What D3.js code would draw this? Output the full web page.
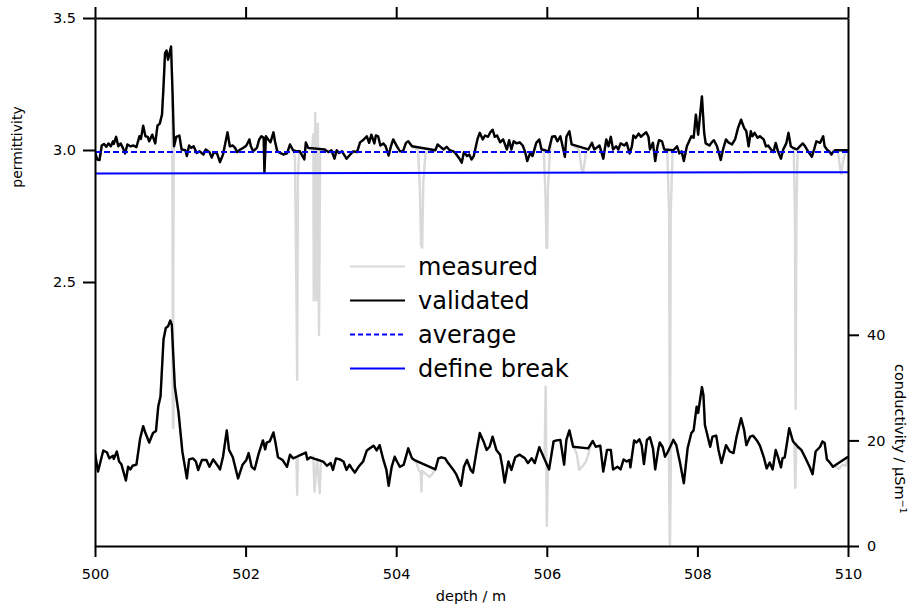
<!DOCTYPE html>
<html>
<head>
<meta charset="utf-8">
<script src="https://cdn.jsdelivr.net/npm/d3@7"></script>
<style>
  body { margin: 0; background: #fff; }
  svg { display: block; font-family: "DejaVu Sans", sans-serif; }
</style>
</head>
<body>
<svg id="chart" width="912" height="605"></svg>
<script>
// depth ticks and axis ticks
var depthTicks = [500, 502, 504, 506, 508, 510],
    permTicks = [2.5, 3.0, 3.5],
    condTicks = [0, 20, 40];

// validated permittivity [depth, value]
var permValidated = [
  [500.00,2.992],[500.03,2.964],[500.06,2.962],[500.09,3.017],[500.12,3.023],[500.15,3.012],[500.18,3.025],[500.21,3.014],
  [500.24,3.033],[500.25,3.023],[500.28,3.050],[500.31,3.014],[500.34,3.025],[500.37,3.008],[500.40,2.987],[500.43,3.021],
  [500.47,3.014],[500.51,3.017],[500.55,3.011],[500.59,3.052],[500.61,3.042],[500.64,3.092],[500.67,3.052],[500.70,3.050],
  [500.72,3.033],[500.76,3.058],[500.80,3.025],[500.83,3.092],[500.86,3.100],[500.89,3.134],[500.91,3.241],[500.93,3.367],
  [500.95,3.377],[500.97,3.342],[501.01,3.392],[501.03,3.216],[501.05,3.014],[501.08,3.050],[501.12,3.055],[501.15,3.002],
  [501.20,2.999],[501.22,2.977],[501.25,3.017],[501.28,3.008],[501.31,3.014],[501.35,2.989],[501.39,2.995],[501.44,2.983],
  [501.47,3.002],[501.52,2.992],[501.55,2.971],[501.58,2.992],[501.62,2.987],[501.66,2.954],[501.70,2.983],[501.76,3.067],
  [501.79,3.014],[501.83,3.017],[501.86,3.008],[501.89,2.992],[501.93,3.002],[501.97,3.008],[502.01,3.017],[502.05,3.040],
  [502.07,3.014],[502.10,2.995],[502.15,3.008],[502.18,3.040],[502.21,3.052],[502.24,3.046],[502.25,2.916],[502.27,3.052],
  [502.30,3.040],[502.33,3.029],[502.37,3.067],[502.39,3.033],[502.42,2.995],[502.46,2.989],[502.50,2.983],[502.55,2.987],
  [502.59,3.021],[502.63,2.999],[502.68,2.995],[502.72,2.995],[502.78,2.964],[502.80,3.029],[502.83,3.008],[503.05,3.002],
  [503.10,2.992],[503.14,2.999],[503.18,2.967],[503.21,2.999],[503.24,2.989],[503.28,2.995],[503.34,2.967],[503.39,2.983],
  [503.43,2.995],[503.48,2.992],[503.52,3.029],[503.57,3.040],[503.61,3.052],[503.64,3.027],[503.67,3.058],[503.71,3.025],
  [503.73,3.055],[503.76,3.052],[503.79,3.017],[503.83,3.025],[503.86,3.014],[503.90,2.979],[503.93,3.014],[503.96,3.040],
  [504.01,3.014],[504.05,2.995],[504.09,2.995],[504.13,3.027],[504.16,3.033],[504.21,3.014],[504.52,2.999],[504.55,3.021],
  [504.58,3.014],[504.63,3.002],[504.67,3.012],[504.71,2.999],[504.76,2.995],[504.79,2.987],[504.84,2.967],[504.87,2.952],
  [504.90,2.992],[504.94,2.977],[504.97,2.983],[505.00,2.964],[505.03,2.977],[505.08,3.042],[505.11,3.065],[505.15,3.040],
  [505.18,3.055],[505.22,3.050],[505.25,3.067],[505.28,3.077],[505.31,3.050],[505.34,3.055],[505.38,3.029],[505.42,3.040],
  [505.47,3.002],[505.50,3.037],[505.53,3.002],[505.56,3.033],[505.60,3.025],[505.64,3.029],[505.68,3.017],[505.71,2.995],
  [505.74,2.958],[505.78,2.989],[505.81,2.977],[505.86,3.027],[505.90,3.040],[505.93,3.002],[505.98,2.999],[506.02,2.992],
  [506.07,3.050],[506.11,3.052],[506.14,3.033],[506.18,3.052],[506.21,3.014],[506.24,2.974],[506.26,3.050],[506.30,3.071],
  [506.33,3.021],[506.55,3.002],[506.60,3.027],[506.63,3.002],[506.66,3.008],[506.70,3.017],[506.75,2.967],[506.79,3.040],
  [506.82,3.014],[506.85,3.050],[506.88,3.002],[506.92,3.014],[506.95,3.002],[506.98,3.025],[507.03,3.017],[507.06,3.027],
  [507.10,2.987],[507.13,3.014],[507.15,3.055],[507.18,3.046],[507.22,3.062],[507.25,3.050],[507.28,3.058],[507.32,3.067],
  [507.35,3.050],[507.37,3.002],[507.41,3.027],[507.44,2.958],[507.47,3.014],[507.49,3.037],[507.53,3.033],[507.56,3.002],
  [507.68,2.999],[507.73,3.014],[507.76,2.987],[507.79,2.995],[507.82,2.958],[507.86,3.014],[507.89,3.033],[507.92,3.052],
  [507.95,3.046],[507.98,3.134],[508.01,3.058],[508.06,3.203],[508.09,3.065],[508.11,3.025],[508.16,3.017],[508.19,3.029],
  [508.22,3.037],[508.26,3.014],[508.28,2.995],[508.31,2.962],[508.34,3.002],[508.38,3.040],[508.41,3.029],[508.46,3.021],
  [508.50,3.040],[508.54,3.084],[508.58,3.115],[508.62,3.084],[508.65,3.071],[508.68,3.014],[508.71,3.071],[508.73,3.052],
  [508.76,3.065],[508.80,3.046],[508.83,3.052],[508.88,3.040],[508.91,3.014],[508.94,3.017],[508.97,3.005],[509.01,2.992],
  [509.04,3.027],[509.07,2.995],[509.11,2.967],[509.14,3.002],[509.18,3.025],[509.21,3.065],[509.24,3.014],[509.27,3.008],
  [509.32,3.002],[509.36,3.014],[509.40,3.025],[509.43,3.014],[509.47,2.995],[509.52,2.974],[509.55,3.002],[509.58,3.033],
  [509.63,3.027],[509.67,3.052],[509.69,3.014],[509.72,3.002],[509.75,2.995],[509.78,2.983],[509.80,2.992],[509.83,2.999],
  [509.98,2.999],[510.00,2.999]
];

// measured permittivity where it differs from validated (spikes)
var permMeasuredSpikes = [
  [[501.025,3.25],[501.035,1.95],[501.045,3.05]],
  [[502.655,2.97],[502.675,2.45],[502.685,2.13],[502.695,2.90],[502.71,2.99]],
  [[502.88,3.00],[502.90,3.06],[502.905,2.43],[502.925,3.14],[502.94,2.43],[502.96,3.10],[502.975,2.30],[502.99,3.00]],
  [[504.29,3.00],[504.315,2.85],[504.33,2.64],[504.345,2.63],[504.36,2.88],[504.39,2.99]],
  [[505.96,3.00],[505.985,2.80],[505.995,2.63],[506.005,2.63],[506.015,2.85],[506.04,2.99]],
  [[506.43,3.00],[506.46,2.93],[506.48,2.915],[506.50,2.95],[506.52,2.99]],
  [[507.60,3.00],[507.625,2.75],[507.635,1.50],[507.645,2.75],[507.67,2.99]],
  [[509.28,3.00],[509.295,2.75],[509.305,2.02],[509.315,2.75],[509.33,2.99]],
  [[509.87,2.99],[509.895,2.93],[509.91,2.91],[509.93,2.95],[509.96,2.99]]
];

// validated conductivity [depth, µS/m]
var condValidated = [
  [500.00,17.6],[500.04,14.1],[500.11,18.1],[500.16,17.7],[500.19,16.6],[500.24,17.1],[500.25,16.5],[500.29,17.9],
  [500.32,16.0],[500.35,15.5],[500.41,12.4],[500.44,15.0],[500.47,14.5],[500.50,15.2],[500.55,15.4],[500.60,20.4],
  [500.64,22.7],[500.67,21.4],[500.72,19.6],[500.77,21.4],[500.81,21.8],[500.84,26.4],[500.87,28.3],[500.91,39.1],
  [500.94,41.3],[500.97,41.6],[501.00,42.7],[501.02,41.9],[501.06,30.2],[501.11,25.2],[501.16,17.9],[501.22,12.8],
  [501.25,16.4],[501.30,16.6],[501.34,16.0],[501.37,14.4],[501.42,16.3],[501.48,16.3],[501.52,15.0],[501.57,16.4],
  [501.62,15.4],[501.66,14.5],[501.70,16.9],[501.75,21.9],[501.78,18.2],[501.83,16.8],[501.90,12.8],[501.96,15.4],
  [502.01,16.3],[502.04,17.6],[502.08,15.0],[502.12,14.5],[502.17,17.3],[502.23,20.0],[502.26,18.3],[502.28,19.6],
  [502.32,19.8],[502.37,21.5],[502.40,19.3],[502.43,16.8],[502.49,16.3],[502.55,15.0],[502.59,17.3],[502.63,16.6],
  [502.68,16.9],[502.74,17.3],[502.80,17.7],[502.82,16.4],[502.86,16.8],[503.03,16.0],[503.08,15.2],[503.13,15.7],
  [503.16,14.4],[503.20,16.6],[503.25,16.4],[503.30,16.0],[503.34,14.4],[503.38,15.4],[503.41,14.7],[503.45,13.9],
  [503.50,15.0],[503.56,16.0],[503.61,18.1],[503.65,18.5],[503.70,19.0],[503.74,18.1],[503.78,19.1],[503.83,16.3],
  [503.87,14.4],[503.90,11.4],[503.94,15.0],[503.98,16.9],[504.01,16.0],[504.05,15.0],[504.10,15.4],[504.16,18.5],
  [504.21,16.6],[504.25,16.2],[504.52,14.5],[504.56,16.6],[504.60,16.8],[504.65,16.6],[504.69,15.7],[504.76,14.4],
  [504.80,13.5],[504.86,11.4],[504.90,15.0],[504.94,16.3],[504.99,14.4],[505.02,13.9],[505.07,18.2],[505.11,21.4],
  [505.16,19.8],[505.20,18.2],[505.24,18.8],[505.28,20.7],[505.33,18.2],[505.38,17.3],[505.41,15.0],[505.44,12.0],
  [505.49,16.0],[505.53,14.4],[505.58,16.8],[505.64,17.3],[505.71,16.6],[505.75,15.7],[505.80,16.6],[505.84,15.7],
  [505.90,18.7],[505.95,17.1],[506.03,14.5],[506.09,19.8],[506.13,20.0],[506.18,20.1],[506.23,15.4],[506.26,20.1],
  [506.30,21.9],[506.35,18.8],[506.55,18.5],[506.61,19.9],[506.65,18.8],[506.71,19.0],[506.75,14.1],[506.80,18.2],
  [506.85,18.2],[506.88,14.5],[506.94,15.0],[506.98,14.5],[507.02,16.4],[507.06,16.0],[507.10,16.3],[507.11,14.9],
  [507.16,20.0],[507.19,19.6],[507.23,20.2],[507.26,19.1],[507.29,15.5],[507.33,20.1],[507.37,20.6],[507.41,18.5],
  [507.44,14.5],[507.48,18.3],[507.50,19.6],[507.54,18.7],[507.57,16.9],[507.61,17.9],[507.68,20.1],[507.72,19.1],
  [507.77,15.7],[507.82,11.9],[507.87,18.5],[507.92,21.4],[507.95,21.9],[507.99,26.4],[508.01,25.2],[508.06,30.1],
  [508.08,28.6],[508.10,22.9],[508.17,18.8],[508.20,20.7],[508.25,20.9],[508.28,18.2],[508.32,15.7],[508.38,19.1],
  [508.43,17.9],[508.48,17.6],[508.52,20.7],[508.58,24.2],[508.62,22.0],[508.65,19.1],[508.70,20.7],[508.74,20.9],
  [508.79,20.0],[508.83,19.0],[508.88,16.9],[508.92,14.7],[508.96,15.8],[509.00,14.5],[509.04,18.2],[509.07,16.9],
  [509.11,14.9],[509.13,16.6],[509.16,16.8],[509.22,22.3],[509.27,19.8],[509.34,18.7],[509.38,18.2],[509.43,16.8],
  [509.49,15.0],[509.53,13.6],[509.57,17.9],[509.63,18.8],[509.66,19.8],[509.69,19.5],[509.72,16.4],[509.76,15.8],
  [509.80,15.0],[510.00,16.9]
];

// measured conductivity where it differs from validated
var condMeasuredSpikes = [
  [[501.025,41.5],[501.04,22.4],[501.05,33.0]],
  [[502.675,16.9],[502.685,9.7],[502.695,17.1]],
  [[502.90,16.9],[502.915,10.3],[502.95,16.5],[502.985,10.0],[503.00,16.2]],
  [[504.26,16.1],[504.30,14.4],[504.325,14.0],[504.335,10.3],[504.345,14.2],[504.38,13.8],[504.44,13.1],[504.48,13.6],[504.52,14.5]],
  [[505.97,16.6],[505.985,30.2],[506.00,3.8],[506.015,15.0]],
  [[506.36,18.7],[506.40,17.3],[506.43,14.4],[506.48,15.2],[506.52,16.0],[506.55,17.3],[506.57,18.5]],
  [[507.62,17.9],[507.635,0.5],[507.65,18.5]],
  [[509.285,19.9],[509.30,11.0],[509.315,19.4]],
  [[509.82,15.2],[509.88,14.6],[509.93,15.4],[509.97,15.2],[510.00,16.2]]
];

var permAverage = [[500, 2.992], [510, 2.992]],
    permBreak = [[500, 2.911], [510, 2.916]];

var legendLabels = ["measured", "validated", "average", "define break"];

var svg = d3.select("#chart");

var x = d3.scaleLinear().domain([500, 510]).range([95, 848]),
    yPerm = d3.scaleLinear().domain([1.5, 3.5]).range([546, 18]),
    yCond = d3.scaleLinear().domain([0, 100]).range([546, 18]);

function withSpikes(base, groups) {
    var pts = base.filter(function (p) {
        return !groups.some(function (g) {
            return p[0] > g[0][0] && p[0] < g[g.length - 1][0];
        });
    });
    groups.forEach(function (g) { pts = pts.concat(g); });
    return pts.sort(function (a, b) { return a[0] - b[0]; });
}

var permMeasured = withSpikes(permValidated, permMeasuredSpikes),
    condMeasured = withSpikes(condValidated, condMeasuredSpikes);

svg.append("clipPath").attr("id", "plotclip")
    .append("rect").attr("x", 95).attr("y", 18).attr("width", 753).attr("height", 528);

var plot = svg.append("g").attr("clip-path", "url(#plotclip)");

var permLine = d3.line().x(function (d) { return x(d[0]); }).y(function (d) { return yPerm(d[1]); }),
    condLine = d3.line().x(function (d) { return x(d[0]); }).y(function (d) { return yCond(d[1]); });

function drawLine(data, gen, color, width, dash) {
    plot.append("path")
        .datum(data)
        .attr("d", gen)
        .attr("fill", "none")
        .attr("stroke", color)
        .attr("stroke-width", width)
        .attr("stroke-linejoin", "round")
        .attr("stroke-dasharray", dash || null);
}

drawLine(permMeasured, permLine, "#d9d9d9", 2.4);
drawLine(condMeasured, condLine, "#d9d9d9", 2.4);
drawLine(permValidated, permLine, "#000", 2.4);
drawLine(condValidated, condLine, "#000", 2.4);
drawLine(permAverage, permLine, "#0000ff", 2, "6,3");
drawLine(permBreak, permLine, "#0000ff", 2);

// axes
function styleAxis(g) {
    g.attr("font-family", "DejaVu Sans, sans-serif").attr("font-size", 14.5);
    g.selectAll("path, line").attr("stroke", "#000").attr("stroke-width", 2);
    g.selectAll("text").attr("fill", "#000");
}

svg.append("g").attr("transform", "translate(0,546)")
    .call(d3.axisBottom(x).tickValues(depthTicks).tickSize(11).tickSizeOuter(0).tickPadding(12).tickFormat(d3.format("d")))
    .call(styleAxis);

svg.append("g").attr("transform", "translate(0,18)")
    .call(d3.axisTop(x).tickValues(depthTicks).tickSize(11).tickSizeOuter(0).tickFormat(""))
    .call(styleAxis);

svg.append("g").attr("transform", "translate(95,0)")
    .call(d3.axisLeft(yPerm).tickValues(permTicks).tickSize(12).tickSizeOuter(0).tickPadding(7).tickFormat(d3.format(".1f")))
    .call(styleAxis);

svg.append("g").attr("transform", "translate(848,0)")
    .call(d3.axisRight(yCond).tickValues(condTicks).tickSize(11).tickSizeOuter(0).tickPadding(8).tickFormat(d3.format("d")))
    .call(styleAxis);

// axis titles
svg.append("text")
    .attr("transform", "translate(22,147) rotate(-90)")
    .attr("text-anchor", "middle")
    .attr("font-size", 14)
    .text("permittivity");

svg.append("text")
    .attr("x", 471).attr("y", 601)
    .attr("text-anchor", "middle")
    .attr("font-size", 14.5)
    .text("depth / m");

var condTitle = svg.append("text")
    .attr("transform", "translate(895,364) rotate(90)")
    .attr("font-size", 14.5)
    .text("conductivity / \u00b5Sm");
condTitle.append("tspan")
    .attr("dy", -5)
    .attr("font-size", 9.5)
    .text("\u22121");

// legend
var legendStyles = [
    { color: "#d9d9d9", dash: null },
    { color: "#000", dash: null },
    { color: "#0000ff", dash: "5,3" },
    { color: "#0000ff", dash: null }
];

var legend = svg.append("g");
legendLabels.forEach(function (label, i) {
    var yy = 275 + i * 34;
    legend.append("line")
        .attr("x1", 350).attr("x2", 405)
        .attr("y1", yy - 8.5).attr("y2", yy - 8.5)
        .attr("stroke", legendStyles[i].color)
        .attr("stroke-width", 2)
        .attr("stroke-dasharray", legendStyles[i].dash);
    legend.append("text")
        .attr("x", 418).attr("y", yy)
        .attr("font-size", 24)
        .text(label);
});
</script>
</body>
</html>
